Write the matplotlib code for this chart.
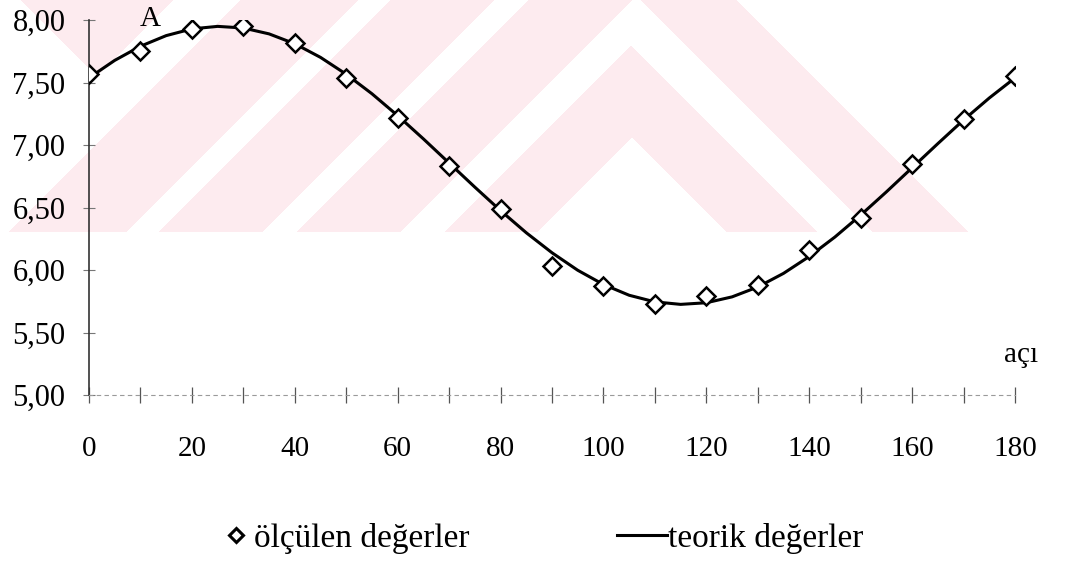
import numpy as np
import matplotlib
matplotlib.use("Agg")
import matplotlib.pyplot as plt
from matplotlib.lines import Line2D
from matplotlib.ticker import FuncFormatter

plt.rcParams['font.family'] = ['Liberation Serif', 'DejaVu Serif']

# ---- data ----
angle_measured = [0, 10, 20, 30, 40, 50, 60, 70, 80, 90,
                  100, 110, 120, 130, 140, 150, 160, 170, 180]
A_measured = [7.57, 7.75, 7.93, 7.95, 7.82, 7.54, 7.22, 6.83, 6.49, 6.03,
              5.87, 5.73, 5.79, 5.88, 6.16, 6.42, 6.85, 7.21, 7.55]

angle_theory = list(range(0, 181, 5))
A_theory = [7.537, 7.677, 7.790, 7.875, 7.929, 7.949, 7.936, 7.889, 7.810,
            7.701, 7.566, 7.410, 7.235, 7.049, 6.856, 6.663, 6.475, 6.298,
            6.138, 5.998, 5.884, 5.798, 5.745, 5.725, 5.738, 5.785, 5.864,
            5.973, 6.108, 6.264, 6.439, 6.625, 6.818, 7.011, 7.200, 7.376,
            7.537]

x_ticks = list(range(0, 181, 20))
x_minor = list(range(0, 181, 10))
y_ticks = [5.0, 5.5, 6.0, 6.5, 7.0, 7.5, 8.0]

label_measured = "ölçülen değerler"
label_theory = "teorik değerler"
y_label = "A"
x_label = "açı"

W, H = 1072, 562
fig = plt.figure(figsize=(W / 100, H / 100), dpi=100)

# ---- faint background watermark (decoration) ----
bg = fig.add_axes([0, 0, 1, 1], zorder=0)
yy, xx = np.mgrid[0:H, 0:W].astype(float)
s = xx + yy
d = xx - yy
pink = (
    ((s < 173) & (d > 20))
    | ((s >= 240) & (s < 358))
    | ((s >= 390) & (s < 494))
    | ((s >= 528) & (s < 632))
    | ((s >= 676) & (s < 769) & (d < 586))
    | ((d >= 641) & (d < 737) & (s >= 528))
    | ((d >= 495) & (d < 586) & (s >= 676))
) & (yy < 232)
img = np.ones((H, W, 3))
img[pink] = np.array([253, 235, 239]) / 255.0
bg.imshow(img, extent=(0, W, H, 0), aspect='auto', interpolation='nearest')
bg.set_axis_off()

# ---- main axes ----
left, right = 89 / W, 1015 / W
top, bottom = 1 - 20 / H, 1 - 395 / H
ax = fig.add_axes([left, bottom, right - left, top - bottom], zorder=1)
ax.patch.set_alpha(0)

line_th, = ax.plot(angle_theory, A_theory, color='black', lw=2.2,
                   solid_joinstyle='round', zorder=3)
pts, = ax.plot(angle_measured, A_measured, linestyle='none', marker='D',
               ms=9, mfc='white', mec='black', mew=1.8, zorder=4)

ax.set_xlim(0, 180)
ax.set_ylim(5, 8)

for sp in ['top', 'right']:
    ax.spines[sp].set_visible(False)
ax.spines['left'].set_color('#333333')
ax.spines['left'].set_linewidth(1.2)
ax.spines['bottom'].set_color('#9a9a9a')
ax.spines['bottom'].set_linewidth(0.8)
ax.spines['bottom'].set_linestyle((0, (3, 4)))

ax.set_xticks(x_ticks)
ax.set_xticks(x_minor, minor=True)
ax.set_xticklabels([str(v) for v in x_ticks])
ax.set_yticks(y_ticks)
ax.yaxis.set_major_formatter(FuncFormatter(lambda v, p: f"{v:.2f}".replace('.', ',')))

ax.tick_params(axis='x', which='both', direction='inout', length=11, width=0.9,
               color='#555555', labelsize=21, pad=24)
ax.tick_params(axis='y', which='major', direction='inout', length=8, width=0.8,
               color='#777777', labelsize=22, pad=13)

fig.text(150 / W, 1 - 19 / H, y_label, fontsize=21, ha='center', va='center')
fig.text(1021 / W, 1 - 355 / H, x_label, fontsize=21, ha='center', va='center')

# ---- legend ----
h1 = Line2D([], [], linestyle='none', marker='D', ms=7, mfc='white',
            mec='black', mew=2.2)
h2 = Line2D([], [], color='black', lw=2.2)
fs = 24
leg1 = fig.legend([h1], [label_measured], loc='center left',
                  bbox_to_anchor=(223 / W, 1 - 538 / H), frameon=False,
                  fontsize=fs, handlelength=0.8, handletextpad=0.12,
                  borderpad=0, borderaxespad=0)
leg2 = fig.legend([h2], [label_theory], loc='center left',
                  bbox_to_anchor=(617 / W, 1 - 538 / H), frameon=False,
                  fontsize=fs, handlelength=1.5, handletextpad=0.04,
                  borderpad=0, borderaxespad=0)

fig.savefig("out.png", dpi=100)
